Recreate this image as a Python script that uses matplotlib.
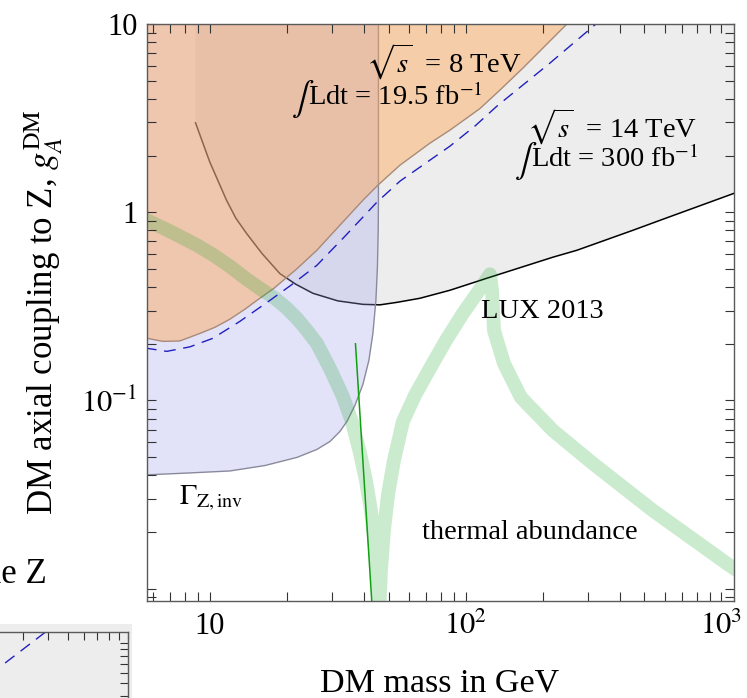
import matplotlib
matplotlib.use("Agg")
import matplotlib.pyplot as plt
from matplotlib.patches import Rectangle
from matplotlib.ticker import LogLocator, NullFormatter
import numpy as np

plt.rcParams['font.family'] = ['Liberation Serif', 'DejaVu Serif']
plt.rcParams['mathtext.fontset'] = 'stix'

# ---------------- data (DM mass in GeV, axial coupling g_A^DM) ----------------
# LUX 2013 direct-detection limit
lux_mass = [8.79, 10.0, 11.62, 12.64, 13.92, 15.97, 18.78, 21.70, 25.28, 31.66, 39.67, 46.23,
            53.86, 66.27, 86.84, 121.1, 219.5, 272.4, 451, 591, 1182]
lux_g = [2.985, 1.845, 1.158, 0.929, 0.771, 0.605, 0.472, 0.414, 0.371, 0.338, 0.324, 0.322,
         0.332, 0.349, 0.385, 0.446, 0.577, 0.628, 0.802, 0.918, 1.294]

# LHC mono-jet exclusion, sqrt(s) = 8 TeV, 19.5 fb^-1
lhc8_mass = [5.57, 6.55, 7.63, 9.14, 10.46, 11.97, 13.70, 15.27, 17.80, 20.0, 21.89, 26.21,
             32.24, 39.67, 45.39, 55.36, 72.53, 86.84, 113.7, 136.2, 167.5, 204.2, 248.9]
lhc8_g = [0.215, 0.206, 0.207, 0.227, 0.2445, 0.270, 0.305, 0.340, 0.394, 0.451, 0.5006, 0.628,
          0.853, 1.158, 1.392, 1.778, 2.328, 2.730, 3.552, 4.457, 5.834, 7.636, 10.0]

# LHC projected reach, sqrt(s) = 14 TeV, 300 fb^-1
lhc14_mass = [5.57, 6.79, 8.35, 10.27, 13.10, 17.17, 20.74, 26.21, 33.73, 44.98, 55.36, 72.53,
              86.84, 108.7, 132.6, 213.6, 326.1]
lhc14_g = [0.190, 0.1823, 0.1926, 0.2138, 0.263, 0.340, 0.409, 0.5224, 0.745, 1.130, 1.462, 1.891,
           2.244, 2.867, 3.663, 6.20, 10.1]

# invisible Z width bound
zinv_mass = [5.57, 8.35, 11.97, 16.41, 21.89, 26.21, 29.47, 32.24, 34.35, 36.90, 39.67, 41.86,
             43.40, 44.59, 45.20, 45.53, 45.61, 45.61]
zinv_g = [0.0402, 0.0412, 0.0422, 0.0451, 0.0498, 0.0549, 0.0605, 0.0684, 0.0773, 0.0940, 0.1217,
          0.1633, 0.2272, 0.340, 0.510, 0.8022, 1.158, 10.0]

# coupling giving the observed thermal relic abundance
thermal_mass = [5.32, 5.67, 6.67, 7.63, 8.90, 10.37, 11.97, 13.95, 15.97, 17.96, 20.0, 21.89,
                23.95, 26.21, 29.47, 33.12, 35.92, 38.60, 40.77, 42.64, 44.19, 45.39, 46.01,
                46.64, 47.92, 49.68, 52.44, 56.86, 63.35, 72.53, 83.76, 97.6, 108.7, 117.9,
                124.5, 126.8, 129.1, 141.2, 164.5, 219.5, 314.7, 540, 1052, 1204]
thermal_g = [0.945, 0.906, 0.817, 0.745, 0.668, 0.590, 0.516, 0.440, 0.387, 0.349, 0.3087, 0.273,
             0.2357, 0.2009, 0.148, 0.1050, 0.0773, 0.0529, 0.03753, 0.0260, 0.01693, 0.01103, 0.00802,
             0.01247, 0.02034, 0.03125, 0.04797, 0.0773, 0.1063, 0.148, 0.2085, 0.290, 0.357, 0.419,
             0.468, 0.3847, 0.2357, 0.1573, 0.1038, 0.0692, 0.0462, 0.0260, 0.01358, 0.0120]

# narrow green line near the Z pole
pole_mass = [37.1, 43.1]
pole_g = [0.20, 0.008]

g_top = 10.0

# neighbouring panel (partly visible)
side_mass = [2.43, 3.87]
side_g = [7.09, 12.08]

# ---------------- figure ----------------
W, H = 747, 698
fig = plt.figure(figsize=(W / 100, H / 100), dpi=100)


def fx(px):
    return px / W


def fy(py):
    return 1 - py / H


FRAME = '#5a5a5a'
TICK = '#333333'

ax = fig.add_axes([fx(147), fy(601), (734 - 147) / W, (601 - 24) / H])
ax.set_xscale('log')
ax.set_yscale('log')
ax.set_xlim(5.68, 1120)
ax.set_ylim(0.0086, 10)

# LUX excluded region (grey) and its limit line
ax.fill(lux_mass + [lux_mass[-1], lux_mass[0]], lux_g + [g_top, g_top],
        color='#ededed', lw=0, zorder=1.0)
ax.plot(lux_mass, lux_g, color='black', lw=1.1, zorder=1.1)

# invisible Z width (blue)
ax.fill(zinv_mass + [zinv_mass[0]], zinv_g + [g_top], color=(162/255, 162/255, 238/255),
        alpha=0.3, lw=0, zorder=1.2)
ax.plot(zinv_mass, zinv_g, color='#8a8a9c', lw=1.0, zorder=1.25)

# 8 TeV exclusion (orange)
ax.fill(lhc8_mass + [lhc8_mass[0]], lhc8_g + [g_top], color=(1.0, 166/255, 84/255),
        alpha=0.45, lw=0, zorder=1.3)
ax.plot(lhc8_mass, lhc8_g, color='#a88a78', lw=1.0, zorder=1.35)

# thermal abundance band
ax.plot(thermal_mass, thermal_g, color=(20/255, 165/255, 35/255), alpha=0.22, lw=10,
        solid_joinstyle='round', solid_capstyle='butt', zorder=1.4)

# 14 TeV projection and pole line
ax.plot(lhc14_mass, lhc14_g, color='#2020c0', lw=1.0, ls=(0, (8.5, 5.5)), zorder=1.5)
ax.plot(pole_mass, pole_g, color='#10a010', lw=1.1, zorder=1.5)

# axes styling
for sp in ax.spines.values():
    sp.set_color(FRAME)
    sp.set_linewidth(1.0)

ax.set_xticks([10, 100, 1000])
ax.set_xticklabels(['10', r'$10^2$', r'$10^3$'])
ax.set_yticks([0.01, 0.1, 1, 10])
ax.set_yticklabels(['', r'$10^{-1}$', '1', '10'])
ax.xaxis.set_minor_locator(LogLocator(base=10, subs=np.arange(2, 10), numticks=20))
ax.yaxis.set_minor_locator(LogLocator(base=10, subs=np.arange(2, 10), numticks=20))
ax.xaxis.set_minor_formatter(NullFormatter())
ax.yaxis.set_minor_formatter(NullFormatter())
ax.tick_params(which='both', direction='in', top=True, right=True, length=6.5,
               width=0.8, color=TICK, labelsize=22)
ax.tick_params(axis='x', which='major', pad=8)
ax.tick_params(axis='y', which='major', pad=7)

# annotations
ann = dict(fontsize=20.5, ha='left', va='baseline')
integral = dict(fontsize=24, ha='left', va='baseline')
fig.text(fx(366), fy(73), r'$\sqrt{s}$  = 8 TeV', **ann)
fig.text(fx(291), fy(107), r'$\int$', **integral)
fig.text(fx(308), fy(105), r'Ldt = 19.5 fb$^{-1}$', **ann)
fig.text(fx(527), fy(138), r'$\sqrt{s}$  = 14 TeV', **ann)
fig.text(fx(514), fy(169), r'$\int$', **integral)
fig.text(fx(531), fy(167), r'Ldt = 300 fb$^{-1}$', **ann)
fig.text(fx(481), fy(318), 'LUX 2013', **ann)
fig.text(fx(179), fy(505), r'$\Gamma_{\mathrm{Z,inv}}$', **ann)
fig.text(fx(422), fy(539), 'thermal abundance', **ann)

fig.text(fx(440), fy(692), 'DM mass in GeV', fontsize=24.5, ha='center', va='baseline')
fig.text(fx(53), fy(312), r'DM axial coupling to Z, $g_A^{\mathrm{DM}}$', fontsize=25,
         rotation=90, rotation_mode='anchor', ha='center', va='baseline')

# neighbouring panel, partly visible at lower left
fig.patches.append(Rectangle((0, 0), fx(132), (698 - 624) / H, transform=fig.transFigure,
                             facecolor='#ededed', edgecolor='none', zorder=-1))
ax2 = fig.add_axes([fx(-72), fy(800), 200 / W, 168 / H])
ax2.set_xscale('log')
ax2.set_yscale('log')
ax2.set_xlim(1, 10)
ax2.set_ylim(0.673, 12.08)
ax2.set_facecolor('#ededed')
ax2.plot(side_mass, side_g, color='#2020c0', lw=1.0, ls=(0, (8.5, 5.5)))
for sp in ax2.spines.values():
    sp.set_color(FRAME)
    sp.set_linewidth(1.0)
ax2.xaxis.set_minor_locator(LogLocator(base=10, subs=np.arange(2, 10), numticks=20))
ax2.yaxis.set_minor_locator(LogLocator(base=10, subs=np.arange(2, 10), numticks=20))
ax2.xaxis.set_minor_formatter(NullFormatter())
ax2.yaxis.set_minor_formatter(NullFormatter())
ax2.tick_params(which='both', direction='in', top=True, right=True, bottom=False, left=False,
                labelbottom=False, labelleft=False, length=6, width=0.8, color=TICK)
fig.text(fx(47), fy(583), 'the Z', fontsize=25, ha='right', va='baseline')

fig.savefig('out.png', dpi=100)
